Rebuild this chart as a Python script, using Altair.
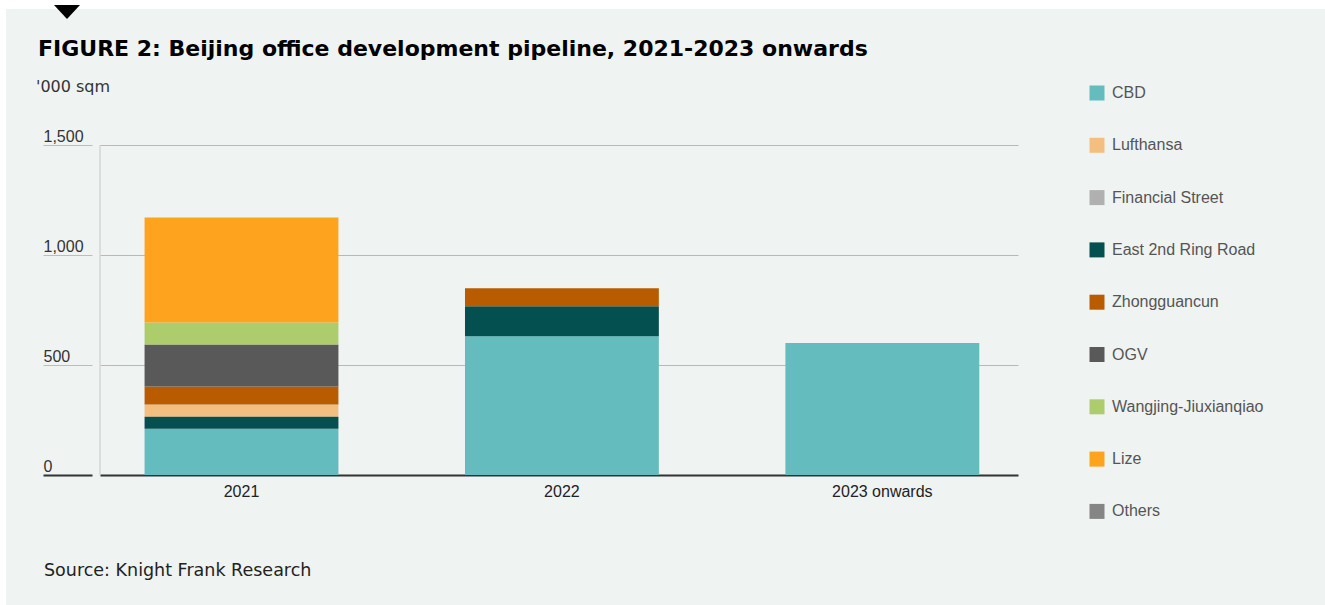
import altair as alt
import pandas as pd

# ---- data ----
years = ["2021", "2022", "2023 onwards"]
districts = ["CBD", "Lufthansa", "Financial Street", "East 2nd Ring Road",
             "Zhongguancun", "OGV", "Wangjing-Jiuxianqiao", "Lize", "Others"]
colors = ["#65bcbe", "#f3bf80", "#b0b0b0", "#044f4f",
          "#b95c00", "#595959", "#adcd6d", "#fea31e", "#858585"]
# stacking order, bottom to top
stack_order = ["CBD", "East 2nd Ring Road", "Lufthansa", "Financial Street",
               "Zhongguancun", "OGV", "Wangjing-Jiuxianqiao", "Lize", "Others"]

cbd = [210, 631, 600]
lufthansa = [55, 0, 0]
financial_street = [0, 0, 0]
east_2nd_ring = [55, 136, 0]
zhongguancun = [82, 82, 0]
ogv = [191, 0, 0]
wangjing = [100, 0, 0]
lize = [478, 0, 0]
others = [0, 0, 0]

series = {
    "CBD": cbd, "Lufthansa": lufthansa, "Financial Street": financial_street,
    "East 2nd Ring Road": east_2nd_ring, "Zhongguancun": zhongguancun,
    "OGV": ogv, "Wangjing-Jiuxianqiao": wangjing, "Lize": lize, "Others": others,
}

rows = []
for d, vals in series.items():
    for y, v in zip(years, vals):
        rows.append({"year": y, "district": d, "value": v,
                     "ord": stack_order.index(d)})
df = pd.DataFrame(rows)
df = df[df["value"] > 0]

W, H = 918, 330
BG = "#eff3f2"
one = pd.DataFrame({"k": [0]})

# white page edges around the grey panel
top_strip = alt.Chart(one).mark_rect(color="#ffffff").encode(
    x=alt.value(-100), x2=alt.value(1225), y=alt.value(-145), y2=alt.value(-136)
)
left_strip = alt.Chart(one).mark_rect(color="#ffffff").encode(
    x=alt.value(-100), x2=alt.value(-94), y=alt.value(-145), y2=alt.value(460)
)

marker = alt.Chart(one).mark_point(
    shape="M-1,-0.54L1,-0.54L0,0.54Z", filled=True, color="#000000",
    size=676, opacity=1
).encode(x=alt.value(-33), y=alt.value(-133))

vline = alt.Chart(one).mark_rule(color="#c8c8c8", strokeWidth=1).encode(
    x=alt.value(0), y=alt.value(0), y2=alt.value(H)
)

bars = alt.Chart(df).mark_bar().encode(
    x=alt.X("year:N", sort=years,
            scale=alt.Scale(paddingInner=0.395, paddingOuter=0.13, align=0.535),
            axis=alt.Axis(title=None, labelAngle=0, domain=False, ticks=False,
                          labelFontSize=16, labelColor="#222222",
                          labelFont="Liberation Sans", labelPadding=8)),
    y=alt.Y("value:Q", stack="zero",
            scale=alt.Scale(domain=[0, 1500], nice=False),
            axis=alt.Axis(title=None, values=[0, 500, 1000, 1500], format=",.0f",
                          offset=8, domain=False, tickSize=49,
                          tickColor={"condition": {"test": "datum.value === 0", "value": "#333333"},
                                     "value": "#bdbdbd"},
                          tickWidth={"condition": {"test": "datum.value === 0", "value": 2},
                                     "value": 1},
                          grid=True,
                          gridColor={"condition": {"test": "datum.value === 0", "value": "#333333"},
                                     "value": "#b8b8b8"},
                          gridWidth={"condition": {"test": "datum.value === 0", "value": 2},
                                     "value": 1},
                          labelAlign="left", labelBaseline="alphabetic",
                          labelPadding=0, labelOffset=-4,
                          labelFontSize=16, labelColor="#333333",
                          labelFont="Liberation Sans")),
    color=alt.Color("district:N",
                    scale=alt.Scale(domain=districts, range=colors),
                    legend=alt.Legend(title=None, orient="none",
                                      legendX=989, legendY=-60,
                                      symbolType="square", symbolSize=225,
                                      symbolStrokeWidth=0, symbolOpacity=1,
                                      rowPadding=36.3, labelOffset=7,
                                      labelFontSize=16, labelColor="#555555",
                                      labelFont="Liberation Sans", padding=0,
                                      values=districts)),
    order=alt.Order("ord:Q", sort="ascending"),
)

title = alt.Chart(one).mark_text(
    text="FIGURE 2: Beijing office development pipeline, 2021-2023 onwards",
    align="left", baseline="alphabetic", font="DejaVu Sans", fontWeight="bold",
    fontSize=22, color="#000000"
).encode(x=alt.value(-62), y=alt.value(-89))

unit = alt.Chart(one).mark_text(
    text="'000 sqm", align="left", baseline="alphabetic",
    font="DejaVu Sans", fontSize=16, color="#333333"
).encode(x=alt.value(-64), y=alt.value(-53))

source = alt.Chart(one).mark_text(
    text="Source: Knight Frank Research", align="left", baseline="alphabetic",
    font="DejaVu Sans", fontSize=17.5, color="#222222"
).encode(x=alt.value(-56), y=alt.value(431))

chart = alt.layer(top_strip, left_strip, marker, vline, bars, title, unit, source).properties(
    width=W, height=H,
    padding={"left": 100, "top": 145, "right": 307, "bottom": 130},
    autosize=alt.AutoSizeParams(type="none"),
    background=BG,
).configure_view(stroke=None).configure_axis(gridCap="butt")

chart.save("out.html", embed_options={"renderer": "svg", "actions": False})
